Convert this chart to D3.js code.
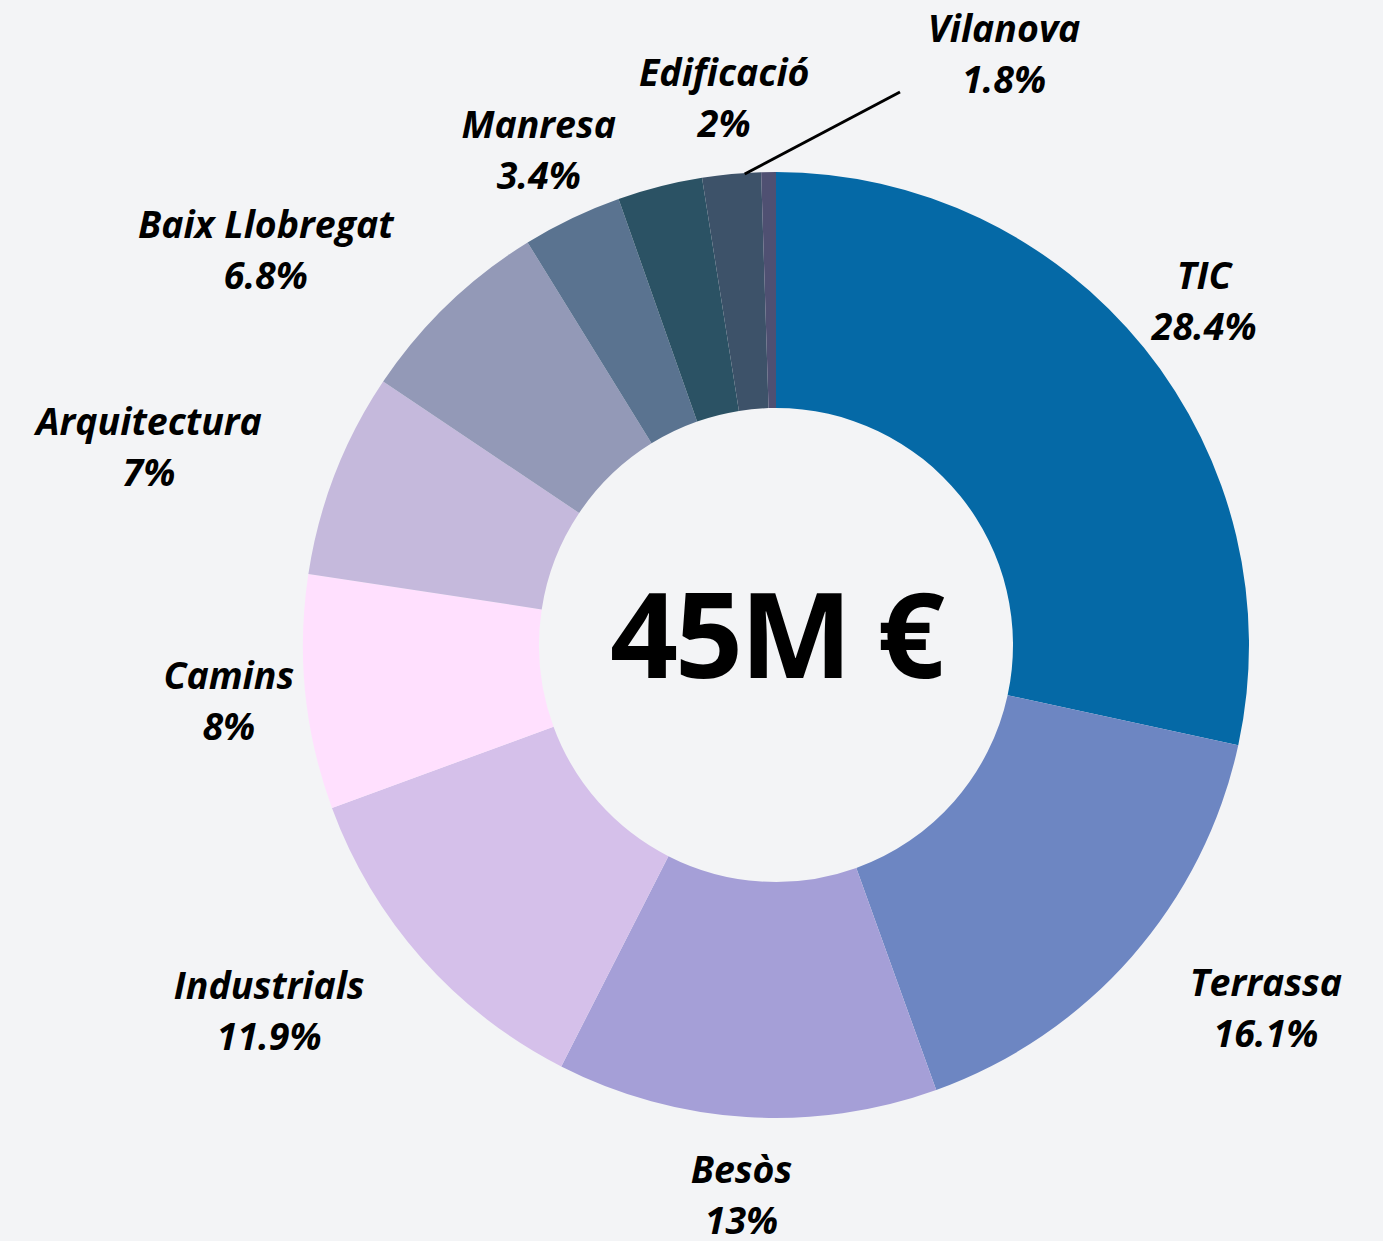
<!DOCTYPE html>
<html lang="ca">
  <head>
    <meta charset="utf-8">
    <script src="https://d3js.org/d3.v7.min.js"></script>
    <style>
    html, body { margin: 0; padding: 0; background: #f3f4f6; }
    svg { display: block; }
    .lbl { font-family: "Open Sans", "Noto Sans", sans-serif; font-weight: 700; font-style: italic; font-size: 37.5px; fill: #000; }
    .total { font-family: "Open Sans", "Noto Sans", sans-serif; font-weight: 700; font-size: 119px; letter-spacing: -3px; fill: #000; }
    </style>
  </head>
  <body>
    <div id="place"></div>
    <script type="text/javascript">
    // share of the budget per centre, clockwise from 12 o'clock
    const names  = ["TIC", "Terrassa", "Besòs", "Industrials", "Camins", "Arquitectura",
                    "Baix Llobregat", "Manresa", "", "Edificació", "Vilanova"];
    const values = [28.4, 16.1, 13, 11.9, 8, 7, 6.8, 3.4, 2.9, 2, 0.5];
    // text shown under each name (empty = no label)
    const pctLabels = ["28.4%", "16.1%", "13%", "11.9%", "8%", "7%", "6.8%", "3.4%", "", "2%", "1.8%"];
    const colors = ["#0569a6", "#6d86c2", "#a59fd7", "#d5c0ea", "#ffe0fe", "#c5b9dc",
                    "#9399b7", "#5a7390", "#2b5264", "#3d5269", "#4f5072"];
    const totalLabel = "45M €";

    var width = 1383;
    var height = 1241;
    var cx = 776, cy = 645;
    var outerR = 473, innerR = 237, labelR = 550;

    var svg = d3.select('#place').append('svg')
      .attr('width', width)
      .attr('height', height);

    svg.append('rect').attr('width', width).attr('height', height).attr('fill', '#f3f4f6');

    var g = svg.append('g').attr('transform', `translate(${cx},${cy})`);

    var pie = d3.pie().sort(null).value(d => d.value);
    var arcs = pie(names.map((n, i) => ({ name: n, value: values[i], pct: pctLabels[i], color: colors[i] })));

    var arc = d3.arc().innerRadius(innerR).outerRadius(outerR);

    g.selectAll('path.slice')
      .data(arcs)
      .enter().append('path')
      .attr('class', 'slice')
      .attr('d', arc)
      .attr('fill', d => d.data.color);

    // Vilanova label is pushed out to the right with a connector line
    var pushed = { name: "Vilanova", x: 228, y: -592, lineFrom: [124, -553], lineAngle: -3.8 };

    function placeLabel(t, x) {
      t.attr('x', x);
      t.selectAll('tspan').attr('x', x);
    }

    arcs.forEach(function(d) {
      if (!d.data.name) return;
      var mid = (d.startAngle + d.endAngle) / 2;
      var x = labelR * Math.sin(mid);
      var y = -labelR * Math.cos(mid);
      var isPushed = d.data.name === pushed.name;
      if (isPushed) { x = pushed.x; y = pushed.y; }

      var t = g.append('text')
        .attr('class', 'lbl')
        .attr('text-anchor', 'middle')
        .attr('x', x)
        .attr('y', y);
      t.append('tspan').attr('x', x).attr('dy', '-0.3em').text(d.data.name);
      t.append('tspan').attr('x', x).attr('dy', '1.36em').text(d.data.pct);

      if (isPushed) {
        var a = pushed.lineAngle * Math.PI / 180;
        g.append('line')
          .attr('x1', pushed.lineFrom[0]).attr('y1', pushed.lineFrom[1])
          .attr('x2', (outerR - 1) * Math.sin(a)).attr('y2', -(outerR - 1) * Math.cos(a))
          .attr('stroke', '#000').attr('stroke-width', 3);
        return;
      }

      // if the centred label touches the ring, hang the block on the outer side
      var b = t.node().getBBox();
      var nx = Math.max(b.x, Math.min(0, b.x + b.width));
      var ny = Math.max(b.y, Math.min(0, b.y + b.height));
      if (Math.hypot(nx, ny) < outerR - 5) {
        placeLabel(t, x + (x > 0 ? 1 : -1) * b.width / 2);
      }
    });

    g.append('text')
      .attr('class', 'total')
      .attr('text-anchor', 'middle')
      .attr('x', 0)
      .attr('y', 33)
      .text(totalLabel);
    </script>
  </body>
</html>
